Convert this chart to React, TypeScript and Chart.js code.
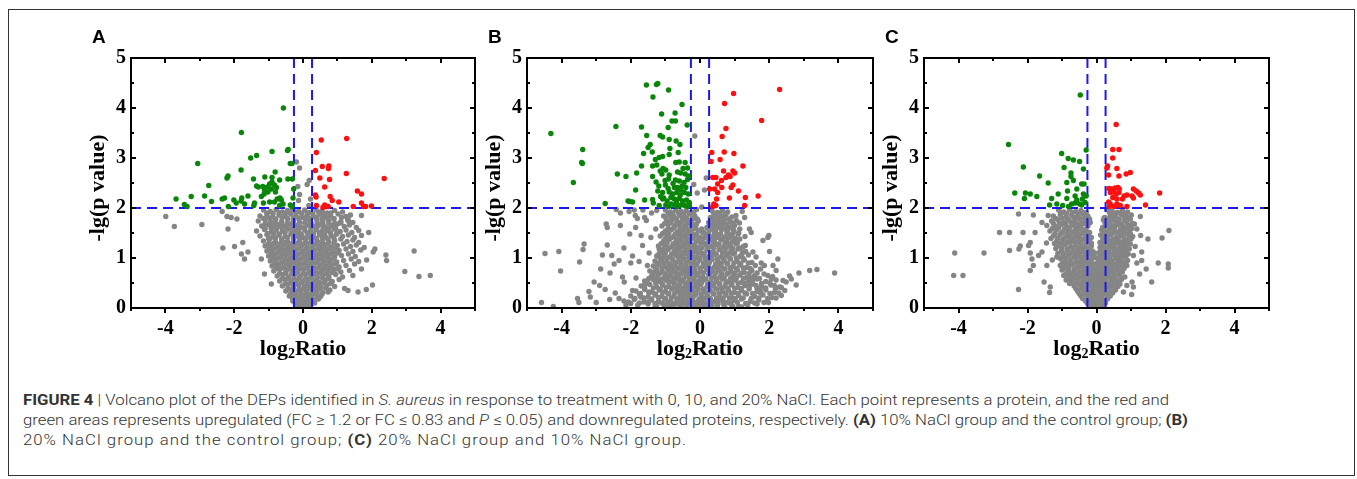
import React, { useEffect, useLayoutEffect, useRef } from "react";
import { Chart, registerables } from "chart.js";

Chart.register(...registerables);

type Pt = [number, number];

// ---------- axis / label constants ----------
const panelLetters = ["A", "B", "C"];
const xTickValues = [-4, -2, 0, 2, 4];
const xTickLabels = ["-4", "-2", "0", "2", "4"];
const yTickValues = [0, 1, 2, 3, 4, 5];
const yTickLabels = ["0", "1", "2", "3", "4", "5"];
const xMinorValues = [-5, -4, -3, -2, -1, 0, 1, 2, 3, 4, 5];
const yMinorValues = [0, 0.5, 1, 1.5, 2, 2.5, 3, 3.5, 4, 4.5, 5];
const fcCut = 0.263; // log2(1.2)
const pCut = 2;
const yAxisTitle = "-lg(p value)";
const xAxisTitle = ["log", "2", "Ratio"];
const captionWidths = [1146, 1165, 664];

// ---------- Panel A : 10% NaCl vs control ----------
const aUp: Pt[] = [
  [0.53, 3.36], [1.27, 3.39], [0.39, 3.11], [0.56, 2.83], [0.75, 2.84], [0.74, 2.79], [0.36, 2.75],
  [1.26, 2.69], [2.36, 2.59], [0.49, 2.6], [0.77, 2.57], [0.63, 2.42], [1.58, 2.34], [1.7, 2.28],
  [0.36, 2.26], [0.38, 2.22], [0.79, 2.23], [0.85, 2.15], [1.04, 2.12], [0.63, 2.06], [0.39, 2.05],
  [0.73, 2.03], [1.7, 2.1], [1.76, 2.03], [1.82, 2.03], [1.99, 2.04], [1.46, 2.03], [0.58, 2.01],
];
const aDown: Pt[] = [
  [-0.57, 4.0], [-1.79, 3.51], [-0.43, 3.17], [-0.45, 3.15], [-0.9, 3.13], [-1.35, 3.05], [-1.52, 3.0],
  [-3.06, 2.89], [-0.32, 2.89], [-0.37, 2.89], [-1.8, 2.76], [-0.81, 2.72], [-2.18, 2.64], [-2.21, 2.6],
  [-1.44, 2.58], [-1.11, 2.62], [-0.44, 2.58], [-0.31, 2.58], [-0.9, 2.61], [-2.74, 2.45], [-1.35, 2.44],
  [-1.3, 2.42], [-1.17, 2.43], [-1.04, 2.42], [-0.97, 2.48], [-0.9, 2.52], [-0.83, 2.46], [-0.68, 2.56],
  [-1.12, 2.36], [-0.92, 2.38], [-0.77, 2.41], [-1.02, 2.32], [-0.8, 2.32], [-0.27, 2.38], [-2.86, 2.24],
  [-3.25, 2.23], [-3.69, 2.18], [-2.66, 2.13], [-2.35, 2.18], [-2.28, 2.2], [-2.01, 2.16], [-1.78, 2.2],
  [-1.6, 2.24], [-1.8, 2.14], [-1.21, 2.23], [-1.13, 2.28], [-0.67, 2.2], [-0.63, 2.16], [-0.83, 2.12],
  [-0.75, 2.18], [-0.29, 2.2], [-3.45, 2.07], [-3.37, 2.03], [-2.17, 2.03], [-1.94, 2.1], [-1.41, 2.1],
  [-1.43, 2.05], [-1.15, 2.1], [-0.97, 2.12], [-0.68, 2.05], [-0.58, 2.08], [-0.37, 2.06], [-0.32, 2.03],
  [-1.7, 2.08],
];
const aOther: Pt[] = [
  [-3.99, 1.83], [-3.74, 1.63], [-2.94, 1.67], [-2.33, 1.2], [-2.18, 1.58], [-2.21, 1.83], [-1.99, 1.23],
  [-1.79, 1.08], [-1.75, 1.31], [-1.92, 1.78], [-2.09, 1.81], [-2.35, 1.93], [2.96, 0.73], [3.23, 1.14],
  [3.37, 0.63], [3.7, 0.65], [2.41, 1.06], [2.43, 0.95], [2.09, 1.18], [2.04, 1.12], [2.02, 0.46],
  [1.84, 0.37], [1.31, 0.35], [1.21, 0.39], [1.31, 1.78], [1.33, 1.73], [1.7, 1.85], [1.91, 1.51],
  [1.6, 0.32], [0.73, 0.32], [0.49, 0.22], [-0.92, 0.48], [-1.12, 0.68], [-1.21, 0.98], [-1.7, 0.98],
  [-1.6, 1.12], [-0.19, 2.92], [-0.1, 2.8], [0.18, 2.55], [0.12, 2.47], [-0.15, 2.43], [-0.1, 2.27],
  [0.22, 2.18], [-0.13, 2.15], [0.17, 2.05],
  [-1.15, 1.96], [-0.95, 1.93], [-0.78, 1.97], [-0.6, 1.92], [-0.45, 1.95], [-0.3, 1.98], [-0.12, 1.93],
  [0.05, 1.96], [0.2, 1.91], [0.38, 1.97], [0.55, 1.94], [0.7, 1.9], [0.92, 1.95], [1.15, 1.92],
  [-1.25, 1.84], [-1.05, 1.87], [-0.88, 1.82], [-0.7, 1.86], [-0.52, 1.83], [-0.35, 1.88], [-0.2, 1.84],
  [-0.05, 1.81], [0.12, 1.86], [0.3, 1.83], [0.48, 1.87], [0.62, 1.82], [0.8, 1.85], [1.02, 1.88],
  [1.25, 1.83], [1.38, 1.86],
  [-1.3, 1.74], [-1.1, 1.77], [-0.95, 1.72], [-0.8, 1.76], [-0.62, 1.73], [-0.45, 1.78], [-0.28, 1.74],
  [-0.1, 1.71], [0.08, 1.76], [0.22, 1.73], [0.4, 1.77], [0.58, 1.72], [0.75, 1.75], [0.9, 1.78],
  [1.1, 1.73], [1.3, 1.76], [1.45, 1.71],
  [-1.2, 1.64], [-1.0, 1.67], [-0.85, 1.62], [-0.7, 1.66], [-0.55, 1.63], [-0.38, 1.68], [-0.2, 1.64],
  [-0.05, 1.61], [0.15, 1.66], [0.32, 1.63], [0.5, 1.67], [0.65, 1.62], [0.85, 1.65], [1.0, 1.68],
  [1.2, 1.63], [1.35, 1.66], [1.55, 1.61],
  [-1.35, 1.54], [-1.12, 1.57], [-0.92, 1.52], [-0.78, 1.56], [-0.6, 1.53], [-0.42, 1.58], [-0.26, 1.54],
  [-0.12, 1.51], [0.05, 1.56], [0.22, 1.53], [0.38, 1.57], [0.55, 1.52], [0.72, 1.55], [0.9, 1.58],
  [1.08, 1.53], [1.25, 1.56], [1.42, 1.51], [1.62, 1.55],
  [-1.25, 1.44], [-1.05, 1.47], [-0.88, 1.42], [-0.7, 1.46], [-0.52, 1.43], [-0.35, 1.48], [-0.18, 1.44],
  [0.0, 1.41], [0.15, 1.46], [0.3, 1.43], [0.48, 1.47], [0.65, 1.42], [0.82, 1.45], [0.98, 1.48],
  [1.15, 1.43], [1.32, 1.46], [1.5, 1.41], [1.7, 1.45],
  [-1.15, 1.34], [-0.98, 1.37], [-0.8, 1.32], [-0.62, 1.36], [-0.45, 1.33], [-0.28, 1.38], [-0.1, 1.34],
  [0.08, 1.31], [0.25, 1.36], [0.42, 1.33], [0.58, 1.37], [0.75, 1.32], [0.92, 1.35], [1.1, 1.38],
  [1.28, 1.33], [1.45, 1.36], [1.62, 1.31],
  [-1.1, 1.24], [-0.92, 1.27], [-0.75, 1.22], [-0.58, 1.26], [-0.4, 1.23], [-0.22, 1.28], [-0.05, 1.24],
  [0.12, 1.21], [0.3, 1.26], [0.48, 1.23], [0.65, 1.27], [0.82, 1.22], [1.0, 1.25], [1.18, 1.28],
  [1.38, 1.23], [1.55, 1.26], [1.78, 1.21],
  [-1.05, 1.14], [-0.88, 1.17], [-0.7, 1.12], [-0.52, 1.16], [-0.35, 1.13], [-0.18, 1.18], [0.0, 1.14],
  [0.18, 1.11], [0.35, 1.16], [0.52, 1.13], [0.7, 1.17], [0.88, 1.12], [1.05, 1.15], [1.25, 1.18],
  [1.45, 1.13], [1.68, 1.16],
  [-1.0, 1.04], [-0.82, 1.07], [-0.65, 1.02], [-0.48, 1.06], [-0.3, 1.03], [-0.12, 1.08], [0.05, 1.04],
  [0.22, 1.01], [0.4, 1.06], [0.58, 1.03], [0.75, 1.07], [0.92, 1.02], [1.12, 1.05], [1.32, 1.08],
  [1.52, 1.03],
  [-0.95, 0.94], [-0.78, 0.97], [-0.6, 0.92], [-0.42, 0.96], [-0.25, 0.93], [-0.08, 0.98], [0.1, 0.94],
  [0.28, 0.91], [0.45, 0.96], [0.62, 0.93], [0.8, 0.97], [0.98, 0.92], [1.18, 0.95], [1.4, 0.98],
  [1.62, 0.93], [1.85, 0.96],
  [-0.9, 0.84], [-0.72, 0.87], [-0.55, 0.82], [-0.38, 0.86], [-0.2, 0.83], [-0.02, 0.88], [0.15, 0.84],
  [0.32, 0.81], [0.5, 0.86], [0.68, 0.83], [0.85, 0.87], [1.05, 0.82], [1.25, 0.85], [1.5, 0.88],
  [-0.85, 0.74], [-0.68, 0.77], [-0.5, 0.72], [-0.32, 0.76], [-0.15, 0.73], [0.02, 0.78], [0.2, 0.74],
  [0.38, 0.71], [0.55, 0.76], [0.72, 0.73], [0.9, 0.77], [1.1, 0.72], [1.35, 0.75], [1.7, 0.78],
  [-0.75, 0.64], [-0.58, 0.67], [-0.42, 0.62], [-0.25, 0.66], [-0.08, 0.63], [0.08, 0.68], [0.25, 0.64],
  [0.42, 0.61], [0.58, 0.66], [0.75, 0.63], [0.95, 0.67], [1.15, 0.62], [1.45, 0.65],
  [-0.68, 0.54], [-0.5, 0.57], [-0.35, 0.52], [-0.18, 0.56], [-0.02, 0.53], [0.15, 0.58], [0.32, 0.54],
  [0.48, 0.51], [0.65, 0.56], [0.85, 0.53], [1.05, 0.57],
  [-0.6, 0.44], [-0.45, 0.47], [-0.28, 0.42], [-0.12, 0.46], [0.05, 0.43], [0.2, 0.48], [0.36, 0.44],
  [0.52, 0.41], [0.7, 0.46], [0.92, 0.43],
  [-0.5, 0.34], [-0.35, 0.37], [-0.2, 0.32], [-0.05, 0.36], [0.1, 0.33], [0.25, 0.38], [0.4, 0.34],
  [0.58, 0.31], [0.78, 0.36],
  [-0.4, 0.24], [-0.25, 0.27], [-0.1, 0.22], [0.05, 0.26], [0.2, 0.23], [0.35, 0.28], [0.52, 0.24],
  [-0.3, 0.14], [-0.15, 0.17], [0.0, 0.12], [0.15, 0.16], [0.3, 0.13], [0.45, 0.18],
  [-0.2, 0.06], [-0.07, 0.08], [0.07, 0.05], [0.2, 0.07], [-0.1, 0.02], [0.02, 0.01], [0.12, 0.03],
];
const aOtherCore: Pt[] = [
  [-1.05, 1.9], [-0.87, 1.89], [-0.69, 1.91], [-0.52, 1.88], [-0.38, 1.9], [-0.21, 1.92], [-0.04, 1.89],
  [0.13, 1.9], [0.29, 1.88], [0.46, 1.91], [0.63, 1.89], [0.81, 1.9],
  [-1.15, 1.79], [-0.97, 1.8], [-0.79, 1.78], [-0.61, 1.81], [-0.44, 1.79], [-0.27, 1.8], [-0.12, 1.78],
  [0.04, 1.8], [0.21, 1.79], [0.39, 1.81], [0.55, 1.78], [0.71, 1.8], [0.9, 1.79], [1.12, 1.81],
  [-1.1, 1.69], [-0.92, 1.7], [-0.77, 1.68], [-0.62, 1.71], [-0.46, 1.69], [-0.29, 1.7], [-0.12, 1.68],
  [0.05, 1.7], [0.23, 1.69], [0.41, 1.71], [0.57, 1.68], [0.75, 1.7], [0.92, 1.69], [1.1, 1.7],
  [-1.1, 1.59], [-0.93, 1.6], [-0.77, 1.58], [-0.62, 1.61], [-0.47, 1.59], [-0.3, 1.6], [-0.13, 1.58],
  [0.05, 1.6], [0.23, 1.59], [0.41, 1.61], [0.58, 1.58], [0.75, 1.6], [0.95, 1.59],
  [-1.02, 1.49], [-0.85, 1.5], [-0.69, 1.48], [-0.52, 1.51], [-0.34, 1.49], [-0.19, 1.5], [-0.05, 1.48],
  [0.12, 1.5], [0.3, 1.49], [0.47, 1.51], [0.63, 1.48], [0.8, 1.5], [0.98, 1.49],
  [-1.0, 1.39], [-0.8, 1.4], [-0.62, 1.38], [-0.45, 1.41], [-0.27, 1.39], [-0.1, 1.4], [0.07, 1.38],
  [0.22, 1.4], [0.39, 1.39], [0.56, 1.41], [0.73, 1.38], [0.9, 1.4],
  [-1.0, 1.29], [-0.84, 1.3], [-0.67, 1.28], [-0.5, 1.31], [-0.32, 1.29], [-0.15, 1.3], [0.02, 1.28],
  [0.2, 1.3], [0.38, 1.29], [0.55, 1.31], [0.72, 1.28], [0.9, 1.3],
  [-0.98, 1.19], [-0.8, 1.2], [-0.63, 1.18], [-0.45, 1.21], [-0.28, 1.19], [-0.1, 1.2], [0.08, 1.18],
  [0.25, 1.2], [0.43, 1.19], [0.6, 1.21], [0.78, 1.18], [0.95, 1.2],
  [-0.92, 1.09], [-0.75, 1.1], [-0.58, 1.08], [-0.4, 1.11], [-0.22, 1.09], [-0.05, 1.1], [0.12, 1.08],
  [0.3, 1.1], [0.48, 1.09], [0.65, 1.11], [0.82, 1.08], [1.0, 1.1],
  [-0.88, 0.99], [-0.7, 1.0], [-0.52, 0.98], [-0.35, 1.01], [-0.18, 0.99], [0.0, 1.0], [0.17, 0.98],
  [0.35, 1.0], [0.52, 0.99], [0.7, 1.01], [0.88, 0.98],
  [-0.82, 0.89], [-0.65, 0.9], [-0.48, 0.88], [-0.3, 0.91], [-0.12, 0.89], [0.05, 0.9], [0.22, 0.88],
  [0.4, 0.9], [0.58, 0.89], [0.75, 0.91], [0.95, 0.88],
  [-0.78, 0.79], [-0.6, 0.8], [-0.42, 0.78], [-0.25, 0.81], [-0.08, 0.79], [0.1, 0.8], [0.28, 0.78],
  [0.45, 0.8], [0.62, 0.79], [0.8, 0.81], [1.0, 0.78],
  [-0.68, 0.69], [-0.5, 0.7], [-0.33, 0.68], [-0.17, 0.71], [0.0, 0.69], [0.17, 0.7], [0.33, 0.68],
  [0.5, 0.7], [0.67, 0.69], [0.85, 0.71],
  [-0.6, 0.59], [-0.43, 0.6], [-0.27, 0.58], [-0.1, 0.61], [0.07, 0.59], [0.23, 0.6], [0.4, 0.58],
  [0.57, 0.6], [0.75, 0.59],
  [-0.52, 0.49], [-0.36, 0.5], [-0.2, 0.48], [-0.04, 0.51], [0.12, 0.49], [0.28, 0.5], [0.44, 0.48],
  [0.6, 0.5], [0.8, 0.49],
  [-0.44, 0.39], [-0.28, 0.4], [-0.12, 0.38], [0.03, 0.41], [0.18, 0.39], [0.33, 0.4], [0.48, 0.38],
  [0.66, 0.4],
  [-0.36, 0.29], [-0.2, 0.3], [-0.05, 0.28], [0.1, 0.31], [0.25, 0.29], [0.4, 0.3], [0.55, 0.28],
  [-0.3, 0.19], [-0.16, 0.2], [-0.02, 0.18], [0.12, 0.21], [0.27, 0.19], [0.42, 0.2],
  [-0.22, 0.09], [-0.08, 0.1], [0.06, 0.11], [0.2, 0.09], [0.34, 0.1],
];

// ---------- Panel B : 20% NaCl vs control ----------
const bUp: Pt[] = [
  [2.3, 4.37], [0.97, 4.29], [0.71, 4.09], [1.78, 3.75], [0.75, 3.59], [0.64, 3.43], [0.34, 3.11],
  [0.7, 3.12], [0.98, 3.09], [0.32, 2.93], [0.58, 2.97], [1.24, 2.84], [0.68, 2.74], [0.95, 2.74],
  [1.0, 2.7], [0.82, 2.66], [0.37, 2.61], [0.46, 2.61], [0.75, 2.61], [0.87, 2.63], [0.62, 2.55],
  [0.51, 2.48], [0.95, 2.46], [0.9, 2.41], [0.63, 2.41], [0.42, 2.38], [0.28, 2.38], [0.51, 2.31],
  [1.11, 2.34], [1.68, 2.24], [1.31, 2.21], [0.85, 2.2], [0.48, 2.18], [0.4, 2.08], [0.46, 2.05],
  [1.29, 2.05], [0.37, 2.03],
];
const bDown: Pt[] = [
  [-4.31, 3.49], [-3.39, 3.17], [-3.42, 2.91], [-3.4, 2.89], [-3.66, 2.51], [-2.74, 2.09], [-2.43, 3.63],
  [-2.39, 2.68], [-2.14, 2.63], [-2.08, 2.14], [-2.03, 2.13], [-1.95, 2.12], [-1.83, 2.7], [-1.86, 2.36],
  [-1.6, 2.16], [-1.69, 3.62], [-1.55, 4.46], [-1.26, 4.47], [-1.22, 4.49], [-0.91, 4.36], [-1.36, 4.22],
  [-0.52, 4.07], [-1.11, 3.88], [-0.72, 3.9], [-0.81, 3.74], [-0.71, 3.74], [-0.37, 3.66], [-0.92, 3.61],
  [-1.54, 3.45], [-1.15, 3.45], [-1.08, 3.42], [-0.69, 3.34], [-0.58, 3.27], [-0.89, 3.37], [-1.44, 3.27],
  [-1.5, 3.21], [-1.63, 3.09], [-1.38, 3.12], [-0.87, 3.19], [-0.63, 3.11], [-1.18, 3.01], [-1.08, 3.03],
  [-0.89, 3.07], [-1.29, 2.97], [-1.25, 2.86], [-0.7, 2.91], [-0.6, 2.92], [-0.43, 2.91], [-1.69, 2.84],
  [-1.07, 2.79], [-0.99, 2.76], [-0.49, 2.79], [-0.36, 2.8], [-1.37, 2.84], [-1.15, 2.74], [-1.1, 2.68],
  [-0.65, 2.72], [-0.56, 2.7], [-0.89, 2.66], [-0.43, 2.68], [-0.33, 2.64], [-1.37, 2.63], [-1.01, 2.55],
  [-0.91, 2.58], [-0.71, 2.56], [-0.6, 2.54], [-0.36, 2.57], [-0.46, 2.51], [-1.27, 2.52], [-1.19, 2.44],
  [-1.0, 2.46], [-0.92, 2.39], [-0.74, 2.41], [-0.65, 2.41], [-0.52, 2.44], [-0.41, 2.41], [-1.22, 2.34],
  [-1.08, 2.31], [-0.89, 2.32], [-0.79, 2.28], [-0.67, 2.31], [-0.57, 2.26], [-0.45, 2.31], [-0.34, 2.28],
  [-1.37, 2.17], [-1.35, 2.1], [-1.14, 2.23], [-1.08, 2.18], [-0.95, 2.14], [-0.84, 2.21], [-0.74, 2.18],
  [-0.68, 2.12], [-0.6, 2.19], [-0.5, 2.14], [-0.39, 2.16], [-0.31, 2.11], [-0.99, 2.06], [-0.91, 2.03],
  [-0.83, 2.08], [-0.73, 2.05], [-0.65, 2.03], [-0.55, 2.06], [-0.44, 2.05], [-0.36, 2.03], [-0.31, 2.06],
  [-1.18, 2.05], [-0.78, 2.49], [-0.55, 2.36], [-1.05, 2.2],
];
const bOther: Pt[] = [
  [-4.58, 0.11], [-4.24, 0.03], [-4.48, 1.09], [-4.08, 1.13], [-4.03, 0.74], [-3.48, 0.92], [-3.38, 1.17],
  [-3.35, 1.28], [-3.54, 0.19], [-3.5, 0.11], [-3.21, 0.33], [-3.17, 0.22], [-3.06, 0.52], [-3.0, 0.11],
  [-2.87, 0.78], [-2.82, 1.06], [-2.74, 0.37], [-2.68, 1.26], [-2.71, 1.68], [-2.68, 1.61], [-2.61, 0.17],
  [-2.55, 1.05], [-2.48, 0.88], [-2.42, 1.97], [-2.34, 0.19], [-2.3, 1.65], [-2.24, 0.62], [-2.19, 0.52],
  [-2.14, 0.05], [-2.07, 0.12], [-2.0, 0.9], [-1.95, 1.04], [-2.03, 1.48], [-1.87, 1.85], [-1.81, 1.79],
  [-1.86, 1.61], [-1.76, 0.93], [-1.71, 0.22], [-1.66, 1.25], [-1.61, 0.45], [-1.6, 1.81], [-1.55, 1.75],
  [-1.52, 0.85], [-1.47, 1.1], [-1.42, 1.41], [-1.47, 0.32], [-1.32, 0.72], [-1.23, 0.58], [-1.28, 1.58],
  [-1.18, 1.18], [-1.1, 0.98], [-2.34, 0.95], [-2.3, 1.9], [-2.05, 1.93], [-1.9, 1.96], [-1.65, 1.96],
  [-1.4, 1.9], [-1.25, 1.95], [-2.9, 0.45], [-2.6, 0.7], [-2.45, 0.3], [-2.2, 1.2], [-1.95, 0.35],
  [-1.85, 0.6], [-1.7, 1.45],
  [3.89, 0.7], [3.38, 0.77], [3.17, 0.75], [2.86, 0.7], [2.78, 0.46], [2.59, 0.64], [2.64, 0.58],
  [2.49, 0.52], [2.4, 0.55], [2.25, 0.98], [1.99, 1.45], [1.96, 1.41], [1.82, 1.35], [2.01, 1.13],
  [1.77, 0.9], [1.86, 0.85], [2.11, 0.85], [2.2, 0.75], [1.96, 0.65], [2.06, 0.58], [2.15, 0.45],
  [2.3, 0.42], [1.62, 0.45], [1.74, 0.35], [1.53, 0.57], [1.43, 0.45], [1.48, 1.51], [1.43, 1.58],
  [1.29, 1.81], [1.22, 1.93], [1.04, 1.85], [1.14, 1.7], [1.62, 1.02], [1.53, 1.12], [1.31, 1.25],
  [1.24, 1.12], [-0.15, 3.44], [-0.18, 2.47], [-0.08, 2.3], [0.13, 2.36], [0.05, 2.02], [0.18, 2.6],
  [-1.0, 1.96], [-0.85, 1.92], [-0.7, 1.97], [-0.55, 1.93], [-0.4, 1.95], [-0.25, 1.91], [-0.1, 1.97],
  [0.35, 1.94], [0.5, 1.91], [0.65, 1.96], [0.8, 1.92],
  [-1.05, 1.84], [-0.9, 1.87], [-0.75, 1.82], [-0.6, 1.86], [-0.45, 1.83], [-0.3, 1.88], [-0.15, 1.84],
  [0.3, 1.81], [0.45, 1.86], [0.6, 1.83], [0.75, 1.87], [0.92, 1.82],
  [-0.95, 1.74], [-0.8, 1.77], [-0.65, 1.72], [-0.5, 1.76], [-0.35, 1.73], [-0.2, 1.78], [-0.05, 1.74],
  [0.25, 1.71], [0.4, 1.76], [0.55, 1.73], [0.7, 1.77], [0.88, 1.72], [1.05, 1.75],
  [-1.1, 1.64], [-0.92, 1.67], [-0.75, 1.62], [-0.6, 1.66], [-0.45, 1.63], [-0.3, 1.68], [-0.15, 1.64],
  [0.2, 1.61], [0.35, 1.66], [0.5, 1.63], [0.65, 1.67], [0.82, 1.62], [1.0, 1.65],
  [-1.0, 1.54], [-0.82, 1.57], [-0.65, 1.52], [-0.5, 1.56], [-0.35, 1.53], [-0.2, 1.58], [-0.05, 1.54],
  [0.12, 1.51], [0.28, 1.56], [0.45, 1.53], [0.62, 1.57], [0.8, 1.52], [0.98, 1.55], [1.15, 1.58],
  [-1.15, 1.44], [-0.95, 1.47], [-0.78, 1.42], [-0.6, 1.46], [-0.45, 1.43], [-0.3, 1.48], [-0.15, 1.44],
  [0.0, 1.41], [0.2, 1.46], [0.38, 1.43], [0.55, 1.47], [0.72, 1.42], [0.9, 1.45], [1.1, 1.48], [1.3, 1.43],
  [-1.05, 1.34], [-0.88, 1.37], [-0.7, 1.32], [-0.55, 1.36], [-0.4, 1.33], [-0.25, 1.38], [-0.1, 1.34],
  [0.08, 1.31], [0.25, 1.36], [0.42, 1.33], [0.6, 1.37], [0.78, 1.32], [0.95, 1.35], [1.15, 1.38],
  [-1.2, 1.24], [-1.0, 1.27], [-0.82, 1.22], [-0.65, 1.26], [-0.5, 1.23], [-0.35, 1.28], [-0.2, 1.24],
  [-0.05, 1.21], [0.15, 1.26], [0.32, 1.23], [0.5, 1.27], [0.68, 1.22], [0.85, 1.25], [1.05, 1.28],
  [1.25, 1.23],
  [-1.1, 1.14], [-0.92, 1.17], [-0.75, 1.12], [-0.6, 1.16], [-0.45, 1.13], [-0.3, 1.18], [-0.15, 1.14],
  [0.02, 1.11], [0.2, 1.16], [0.38, 1.13], [0.55, 1.17], [0.72, 1.12], [0.9, 1.15], [1.1, 1.18],
  [1.32, 1.13],
  [-1.25, 1.04], [-1.05, 1.07], [-0.88, 1.02], [-0.7, 1.06], [-0.55, 1.03], [-0.4, 1.08], [-0.25, 1.04],
  [-0.1, 1.01], [0.08, 1.06], [0.25, 1.03], [0.42, 1.07], [0.6, 1.02], [0.78, 1.05], [0.95, 1.08],
  [1.15, 1.03], [1.4, 1.06],
  [-1.3, 0.94], [-1.12, 0.97], [-0.95, 0.92], [-0.78, 0.96], [-0.62, 0.93], [-0.48, 0.98], [-0.32, 0.94],
  [-0.18, 0.91], [0.0, 0.96], [0.18, 0.93], [0.35, 0.97], [0.52, 0.92], [0.7, 0.95], [0.88, 0.98],
  [1.08, 0.93], [1.28, 0.96], [1.5, 0.91],
  [-1.35, 0.84], [-1.18, 0.87], [-1.0, 0.82], [-0.85, 0.86], [-0.7, 0.83], [-0.55, 0.88], [-0.4, 0.84],
  [-0.25, 0.81], [-0.1, 0.86], [0.08, 0.83], [0.25, 0.87], [0.42, 0.82], [0.6, 0.85], [0.78, 0.88],
  [0.95, 0.83], [1.15, 0.86], [1.35, 0.81], [1.6, 0.85],
  [-1.45, 0.74], [-1.25, 0.77], [-1.08, 0.72], [-0.92, 0.76], [-0.75, 0.73], [-0.6, 0.78], [-0.45, 0.74],
  [-0.3, 0.71], [-0.15, 0.76], [0.02, 0.73], [0.2, 0.77], [0.38, 0.72], [0.55, 0.75], [0.72, 0.78],
  [0.9, 0.73], [1.08, 0.76], [1.28, 0.71], [1.5, 0.75], [1.75, 0.78],
  [-1.4, 0.64], [-1.2, 0.67], [-1.02, 0.62], [-0.85, 0.66], [-0.7, 0.63], [-0.55, 0.68], [-0.4, 0.64],
  [-0.25, 0.61], [-0.1, 0.66], [0.08, 0.63], [0.25, 0.67], [0.42, 0.62], [0.6, 0.65], [0.78, 0.68],
  [0.95, 0.63], [1.15, 0.66], [1.35, 0.61], [1.58, 0.65], [1.85, 0.68], [2.1, 0.63],
  [-1.6, 0.54], [-1.35, 0.57], [-1.15, 0.52], [-0.98, 0.56], [-0.8, 0.53], [-0.65, 0.58], [-0.5, 0.54],
  [-0.35, 0.51], [-0.2, 0.56], [-0.05, 0.53], [0.12, 0.57], [0.3, 0.52], [0.48, 0.55], [0.65, 0.58],
  [0.82, 0.53], [1.0, 0.56], [1.2, 0.51], [1.4, 0.55], [1.65, 0.58], [1.9, 0.53], [2.2, 0.56],
  [-1.7, 0.44], [-1.45, 0.47], [-1.25, 0.42], [-1.08, 0.46], [-0.9, 0.43], [-0.75, 0.48], [-0.6, 0.44],
  [-0.45, 0.41], [-0.3, 0.46], [-0.15, 0.43], [0.02, 0.47], [0.2, 0.42], [0.38, 0.45], [0.55, 0.48],
  [0.72, 0.43], [0.9, 0.46], [1.1, 0.41], [1.3, 0.45], [1.52, 0.48], [1.78, 0.43], [2.05, 0.46],
  [2.35, 0.41],
  [-1.85, 0.34], [-1.6, 0.37], [-1.38, 0.32], [-1.18, 0.36], [-1.0, 0.33], [-0.82, 0.38], [-0.65, 0.34],
  [-0.5, 0.31], [-0.35, 0.36], [-0.2, 0.33], [-0.05, 0.37], [0.12, 0.32], [0.3, 0.35], [0.48, 0.38],
  [0.65, 0.33], [0.82, 0.36], [1.0, 0.31], [1.2, 0.35], [1.42, 0.38], [1.65, 0.33], [1.9, 0.36],
  [2.15, 0.31], [2.45, 0.35],
  [-2.0, 0.24], [-1.75, 0.27], [-1.5, 0.22], [-1.3, 0.26], [-1.1, 0.23], [-0.92, 0.28], [-0.75, 0.24],
  [-0.58, 0.21], [-0.42, 0.26], [-0.28, 0.23], [-0.12, 0.27], [0.05, 0.22], [0.22, 0.25], [0.4, 0.28],
  [0.58, 0.23], [0.75, 0.26], [0.92, 0.21], [1.12, 0.25], [1.35, 0.28], [1.58, 0.23], [1.82, 0.26],
  [2.08, 0.21], [2.35, 0.25],
  [-2.2, 0.14], [-1.9, 0.17], [-1.62, 0.12], [-1.4, 0.16], [-1.2, 0.13], [-1.02, 0.18], [-0.85, 0.14],
  [-0.68, 0.11], [-0.52, 0.16], [-0.38, 0.13], [-0.22, 0.17], [-0.08, 0.12], [0.08, 0.15], [0.25, 0.18],
  [0.42, 0.13], [0.6, 0.16], [0.78, 0.11], [0.98, 0.15], [1.2, 0.18], [1.45, 0.13], [1.7, 0.16],
  [1.98, 0.11],
  [-1.8, 0.06], [-1.5, 0.08], [-1.25, 0.05], [-1.05, 0.07], [-0.88, 0.04], [-0.7, 0.08], [-0.55, 0.06],
  [-0.4, 0.03], [-0.25, 0.07], [-0.1, 0.05], [0.05, 0.08], [0.2, 0.04], [0.35, 0.06], [0.52, 0.08],
  [0.7, 0.05], [0.9, 0.07], [1.12, 0.04], [1.38, 0.06], [1.65, 0.08],
  [-1.3, 0.02], [-1.0, 0.01], [-0.78, 0.03], [-0.58, 0.02], [-0.4, 0.01], [-0.22, 0.03], [-0.05, 0.02],
  [0.12, 0.01], [0.3, 0.03], [0.5, 0.02], [0.72, 0.01], [0.95, 0.03], [1.2, 0.02],
];
const bOtherCore: Pt[] = [
  [-0.92, 1.9], [-0.78, 1.89], [-0.62, 1.91], [-0.48, 1.88], [-0.32, 1.9], [-0.18, 1.92], [0.4, 1.89],
  [0.57, 1.9], [0.72, 1.88],
  [-0.98, 1.79], [-0.82, 1.8], [-0.68, 1.78], [-0.52, 1.81], [-0.38, 1.79], [-0.22, 1.8], [-0.08, 1.78],
  [0.35, 1.8], [0.52, 1.79], [0.67, 1.81], [0.83, 1.78],
  [-1.02, 1.69], [-0.85, 1.7], [-0.7, 1.68], [-0.55, 1.71], [-0.4, 1.69], [-0.25, 1.7], [-0.1, 1.68],
  [0.3, 1.7], [0.45, 1.69], [0.6, 1.71], [0.76, 1.68], [0.94, 1.7],
  [-0.92, 1.59], [-0.75, 1.6], [-0.58, 1.58], [-0.42, 1.61], [-0.27, 1.59], [-0.12, 1.6], [0.05, 1.58],
  [0.22, 1.6], [0.38, 1.59], [0.55, 1.61], [0.72, 1.58], [0.9, 1.6],
  [-1.08, 1.49], [-0.9, 1.5], [-0.72, 1.48], [-0.55, 1.51], [-0.4, 1.49], [-0.25, 1.5], [-0.1, 1.48],
  [0.08, 1.5], [0.25, 1.49], [0.42, 1.51], [0.6, 1.48], [0.78, 1.5], [0.95, 1.49], [1.12, 1.5],
  [-1.0, 1.39], [-0.85, 1.4], [-0.68, 1.38], [-0.52, 1.41], [-0.38, 1.39], [-0.22, 1.4], [-0.05, 1.38],
  [0.12, 1.4], [0.3, 1.39], [0.48, 1.41], [0.65, 1.38], [0.82, 1.4], [1.02, 1.39],
  [-1.12, 1.29], [-0.95, 1.3], [-0.78, 1.28], [-0.6, 1.31], [-0.45, 1.29], [-0.3, 1.3], [-0.15, 1.28],
  [0.02, 1.3], [0.2, 1.29], [0.38, 1.31], [0.55, 1.28], [0.72, 1.3], [0.9, 1.29], [1.08, 1.3],
  [-1.05, 1.19], [-0.9, 1.2], [-0.72, 1.18], [-0.58, 1.21], [-0.42, 1.19], [-0.28, 1.2], [-0.12, 1.18],
  [0.05, 1.2], [0.22, 1.19], [0.4, 1.21], [0.58, 1.18], [0.76, 1.2], [0.95, 1.19], [1.15, 1.2],
  [-1.18, 1.09], [-1.0, 1.1], [-0.82, 1.08], [-0.65, 1.11], [-0.5, 1.09], [-0.35, 1.1], [-0.2, 1.08],
  [-0.05, 1.1], [0.12, 1.09], [0.3, 1.11], [0.47, 1.08], [0.65, 1.1], [0.82, 1.09], [1.0, 1.1], [1.22, 1.09],
  [-1.15, 0.99], [-0.97, 1.0], [-0.8, 0.98], [-0.62, 1.01], [-0.48, 0.99], [-0.33, 1.0], [-0.18, 0.98],
  [-0.02, 1.0], [0.15, 0.99], [0.33, 1.01], [0.5, 0.98], [0.68, 1.0], [0.86, 0.99], [1.05, 1.0], [1.25, 0.99],
  [-1.22, 0.89], [-1.05, 0.9], [-0.88, 0.88], [-0.72, 0.91], [-0.55, 0.89], [-0.4, 0.9], [-0.25, 0.88],
  [-0.08, 0.9], [0.1, 0.89], [0.27, 0.91], [0.45, 0.88], [0.62, 0.9], [0.8, 0.89], [0.98, 0.9],
  [1.18, 0.89], [1.4, 0.9],
  [-1.28, 0.79], [-1.1, 0.8], [-0.92, 0.78], [-0.78, 0.81], [-0.62, 0.79], [-0.48, 0.8], [-0.33, 0.78],
  [-0.18, 0.8], [0.0, 0.79], [0.17, 0.81], [0.33, 0.78], [0.5, 0.8], [0.68, 0.79], [0.87, 0.8],
  [1.05, 0.79], [1.25, 0.8], [1.45, 0.79],
  [-1.35, 0.69], [-1.15, 0.7], [-0.98, 0.68], [-0.83, 0.71], [-0.68, 0.69], [-0.52, 0.7], [-0.38, 0.68],
  [-0.22, 0.7], [-0.07, 0.69], [0.1, 0.71], [0.28, 0.68], [0.45, 0.7], [0.63, 0.69], [0.82, 0.7],
  [1.0, 0.69], [1.2, 0.7], [1.42, 0.69], [1.65, 0.7],
  [-1.48, 0.59], [-1.28, 0.6], [-1.1, 0.58], [-0.92, 0.61], [-0.78, 0.59], [-0.62, 0.6], [-0.48, 0.58],
  [-0.32, 0.6], [-0.17, 0.59], [0.0, 0.61], [0.17, 0.58], [0.33, 0.6], [0.5, 0.59], [0.7, 0.6],
  [0.88, 0.59], [1.05, 0.6], [1.25, 0.59], [1.48, 0.6], [1.72, 0.59],
  [-1.5, 0.49], [-1.28, 0.5], [-1.08, 0.48], [-0.9, 0.51], [-0.73, 0.49], [-0.58, 0.5], [-0.43, 0.48],
  [-0.28, 0.5], [-0.12, 0.49], [0.05, 0.51], [0.22, 0.48], [0.4, 0.5], [0.57, 0.49], [0.75, 0.5],
  [0.92, 0.49], [1.1, 0.5], [1.3, 0.49], [1.52, 0.5], [1.78, 0.49], [2.02, 0.5],
  [-1.6, 0.39], [-1.35, 0.4], [-1.15, 0.38], [-0.98, 0.41], [-0.82, 0.39], [-0.68, 0.4], [-0.52, 0.38],
  [-0.38, 0.4], [-0.22, 0.39], [-0.07, 0.41], [0.1, 0.38], [0.28, 0.4], [0.45, 0.39], [0.62, 0.4],
  [0.8, 0.39], [1.0, 0.4], [1.2, 0.39], [1.42, 0.4], [1.65, 0.39], [1.9, 0.4], [2.18, 0.39],
  [-1.72, 0.29], [-1.48, 0.3], [-1.28, 0.28], [-1.08, 0.31], [-0.9, 0.29], [-0.73, 0.3], [-0.58, 0.28],
  [-0.42, 0.3], [-0.28, 0.29], [-0.12, 0.31], [0.03, 0.28], [0.2, 0.3], [0.38, 0.29], [0.55, 0.3],
  [0.73, 0.29], [0.9, 0.3], [1.1, 0.29], [1.3, 0.3], [1.52, 0.29], [1.75, 0.3], [2.02, 0.29], [2.28, 0.3],
  [-1.88, 0.19], [-1.62, 0.2], [-1.4, 0.18], [-1.2, 0.21], [-1.0, 0.19], [-0.83, 0.2], [-0.67, 0.18],
  [-0.5, 0.2], [-0.35, 0.19], [-0.2, 0.21], [-0.03, 0.18], [0.13, 0.2], [0.3, 0.19], [0.48, 0.2],
  [0.67, 0.19], [0.85, 0.2], [1.02, 0.19], [1.25, 0.2], [1.48, 0.19], [1.7, 0.2], [1.95, 0.19], [2.2, 0.2],
  [-2.0, 0.09], [-1.75, 0.1], [-1.5, 0.11], [-1.3, 0.09], [-1.1, 0.1], [-0.93, 0.11], [-0.77, 0.09],
  [-0.6, 0.1], [-0.45, 0.11], [-0.3, 0.09], [-0.15, 0.1], [0.0, 0.11], [0.17, 0.09], [0.33, 0.1],
  [0.5, 0.11], [0.68, 0.09], [0.88, 0.1], [1.08, 0.11], [1.32, 0.09], [1.58, 0.1], [1.85, 0.11],
];

// ---------- Panel C : 20% NaCl vs 10% NaCl ----------
const cUp: Pt[] = [
  [0.57, 3.67], [0.47, 3.17], [0.65, 3.17], [0.47, 3.0], [0.32, 2.84], [0.3, 2.8], [0.59, 2.79],
  [0.98, 2.71], [0.86, 2.68], [0.35, 2.66], [0.65, 2.64], [0.36, 2.39], [0.44, 2.38], [0.54, 2.4],
  [0.62, 2.41], [0.66, 2.38], [0.4, 2.31], [0.5, 2.32], [0.57, 2.28], [0.65, 2.31], [0.8, 2.24],
  [0.88, 2.26], [1.07, 2.38], [1.15, 2.34], [1.22, 2.3], [1.27, 2.26], [1.83, 2.3], [1.03, 2.24],
  [0.47, 2.21], [0.59, 2.18], [0.75, 2.18], [1.07, 2.2], [1.42, 2.06], [0.35, 2.12], [0.4, 2.08],
  [0.59, 2.08], [0.69, 2.05], [0.88, 2.03], [0.52, 2.03], [0.37, 2.03],
];
const cDown: Pt[] = [
  [-0.47, 4.26], [-2.55, 3.27], [-1.01, 3.09], [-0.3, 3.16], [-0.82, 2.99], [-0.67, 2.96], [-0.49, 2.93],
  [-2.12, 2.82], [-0.94, 2.81], [-0.38, 2.78], [-0.74, 2.7], [-0.74, 2.63], [-1.65, 2.64], [-0.67, 2.55],
  [-0.86, 2.51], [-1.4, 2.5], [-0.43, 2.48], [-0.36, 2.48], [-0.84, 2.34], [-0.57, 2.38], [-2.37, 2.3],
  [-2.06, 2.3], [-1.92, 2.28], [-1.73, 2.23], [-2.09, 2.19], [-1.11, 2.28], [-0.38, 2.28], [-0.3, 2.24],
  [-1.3, 2.19], [-0.86, 2.19], [-0.62, 2.24], [-0.57, 2.16], [-0.41, 2.18], [-1.36, 2.06], [-1.15, 2.08],
  [-0.98, 2.05], [-0.81, 2.03], [-0.72, 2.08], [-0.62, 2.1], [-0.49, 2.08], [-0.43, 2.06], [-0.33, 2.11],
];
const cOther: Pt[] = [
  [-4.14, 0.65], [-3.87, 0.65], [-4.11, 1.1], [-3.26, 1.1], [-2.81, 1.51], [-2.52, 1.15], [-2.52, 1.51],
  [-2.26, 0.37], [-2.26, 1.88], [-2.21, 1.24], [-2.25, 1.18], [-2.13, 1.51], [-1.92, 1.31], [-1.97, 1.25],
  [-1.83, 1.86], [-1.78, 1.51], [-1.92, 1.1], [-1.87, 0.98], [-1.92, 0.75], [-1.68, 1.05], [-1.83, 0.85],
  [-1.52, 0.52], [-1.34, 0.42], [-1.36, 0.31], [-1.44, 0.85], [-1.58, 1.12], [-1.58, 1.71], [-1.44, 1.65],
  [1.01, 1.86], [1.27, 1.83], [1.28, 1.45], [1.49, 1.38], [1.6, 0.52], [1.79, 0.9], [1.9, 1.4],
  [2.1, 1.55], [2.08, 0.88], [2.08, 0.8], [1.44, 0.78], [1.17, 0.9], [1.31, 0.95], [1.25, 0.68],
  [1.03, 0.52], [1.07, 0.42], [0.88, 0.45], [1.02, 0.27], [0.78, 0.32], [1.31, 1.12], [1.07, 1.05],
  [0.98, 1.48], [1.17, 1.58], [-1.15, 1.02], [-1.28, 0.96], [-1.05, 0.85], [-1.0, 0.76], [-0.95, 0.65],
  [-0.88, 0.56], [-1.45, 1.3], [-1.4, 1.85],
  [-1.1, 1.96], [-0.95, 1.92], [-0.78, 1.97], [-0.6, 1.93], [-0.45, 1.95], [-0.3, 1.91], [0.3, 1.97],
  [0.45, 1.94], [0.6, 1.91], [0.75, 1.96], [0.9, 1.92],
  [-1.25, 1.84], [-1.05, 1.87], [-0.88, 1.82], [-0.72, 1.86], [-0.55, 1.83], [-0.4, 1.88], [-0.25, 1.84],
  [0.25, 1.81], [0.4, 1.86], [0.55, 1.83], [0.72, 1.87], [0.88, 1.82],
  [-1.3, 1.74], [-1.12, 1.77], [-0.95, 1.72], [-0.8, 1.76], [-0.62, 1.73], [-0.48, 1.78], [-0.32, 1.74],
  [-0.18, 1.71], [0.2, 1.76], [0.35, 1.73], [0.5, 1.77], [0.65, 1.72], [0.82, 1.75], [0.98, 1.78],
  [-1.2, 1.64], [-1.02, 1.67], [-0.85, 1.62], [-0.7, 1.66], [-0.55, 1.63], [-0.4, 1.68], [-0.25, 1.64],
  [0.18, 1.61], [0.32, 1.66], [0.48, 1.63], [0.62, 1.67], [0.78, 1.62], [0.95, 1.65], [1.1, 1.68],
  [-1.35, 1.54], [-1.15, 1.57], [-0.98, 1.52], [-0.82, 1.56], [-0.65, 1.53], [-0.5, 1.58], [-0.35, 1.54],
  [-0.2, 1.51], [0.15, 1.56], [0.3, 1.53], [0.45, 1.57], [0.6, 1.52], [0.75, 1.55], [0.92, 1.58],
  [-1.25, 1.44], [-1.05, 1.47], [-0.9, 1.42], [-0.75, 1.46], [-0.6, 1.43], [-0.45, 1.48], [-0.3, 1.44],
  [-0.15, 1.41], [0.12, 1.46], [0.28, 1.43], [0.42, 1.47], [0.58, 1.42], [0.72, 1.45], [0.88, 1.48],
  [1.05, 1.43],
  [-1.15, 1.34], [-0.98, 1.37], [-0.82, 1.32], [-0.68, 1.36], [-0.52, 1.33], [-0.38, 1.38], [-0.22, 1.34],
  [0.1, 1.31], [0.25, 1.36], [0.4, 1.33], [0.55, 1.37], [0.7, 1.32], [0.85, 1.35], [1.0, 1.38],
  [-1.1, 1.24], [-0.92, 1.27], [-0.75, 1.22], [-0.6, 1.26], [-0.45, 1.23], [-0.3, 1.28], [-0.15, 1.24],
  [0.1, 1.21], [0.22, 1.26], [0.38, 1.23], [0.52, 1.27], [0.68, 1.22], [0.82, 1.25], [0.98, 1.28],
  [1.12, 1.23],
  [-1.02, 1.14], [-0.85, 1.17], [-0.7, 1.12], [-0.55, 1.16], [-0.4, 1.13], [-0.25, 1.18], [-0.12, 1.14],
  [0.08, 1.11], [0.2, 1.16], [0.35, 1.13], [0.5, 1.17], [0.65, 1.12], [0.8, 1.15], [0.95, 1.18],
  [-0.98, 1.04], [-0.82, 1.07], [-0.65, 1.02], [-0.5, 1.06], [-0.35, 1.03], [-0.2, 1.08], [-0.08, 1.04],
  [0.08, 1.01], [0.2, 1.06], [0.32, 1.03], [0.48, 1.07], [0.62, 1.02], [0.78, 1.05], [0.92, 1.08],
  [-0.92, 0.94], [-0.75, 0.97], [-0.6, 0.92], [-0.45, 0.96], [-0.3, 0.93], [-0.15, 0.98], [0.05, 0.94],
  [0.18, 0.91], [0.3, 0.96], [0.45, 0.93], [0.6, 0.97], [0.75, 0.92], [0.9, 0.95],
  [-0.88, 0.84], [-0.72, 0.87], [-0.55, 0.82], [-0.4, 0.86], [-0.25, 0.83], [-0.1, 0.88], [0.05, 0.84],
  [0.18, 0.81], [0.3, 0.86], [0.42, 0.83], [0.58, 0.87], [0.72, 0.82], [0.88, 0.85],
  [-0.82, 0.74], [-0.65, 0.77], [-0.5, 0.72], [-0.35, 0.76], [-0.22, 0.73], [-0.08, 0.78], [0.05, 0.74],
  [0.18, 0.71], [0.3, 0.76], [0.45, 0.73], [0.6, 0.77], [0.75, 0.72],
  [-0.78, 0.64], [-0.62, 0.67], [-0.48, 0.62], [-0.32, 0.66], [-0.18, 0.63], [-0.05, 0.68], [0.08, 0.64],
  [0.2, 0.61], [0.35, 0.66], [0.5, 0.63], [0.65, 0.67], [0.82, 0.62],
  [-0.72, 0.54], [-0.55, 0.57], [-0.4, 0.52], [-0.25, 0.56], [-0.12, 0.53], [0.02, 0.58], [0.15, 0.54],
  [0.28, 0.51], [0.42, 0.56], [0.58, 0.53], [0.72, 0.57],
  [-0.65, 0.44], [-0.5, 0.47], [-0.35, 0.42], [-0.2, 0.46], [-0.08, 0.43], [0.05, 0.48], [0.18, 0.44],
  [0.32, 0.41], [0.48, 0.46], [0.62, 0.43],
  [-0.55, 0.34], [-0.4, 0.37], [-0.25, 0.32], [-0.12, 0.36], [0.0, 0.33], [0.12, 0.38], [0.25, 0.34],
  [0.4, 0.31], [0.55, 0.36],
  [-0.45, 0.24], [-0.3, 0.27], [-0.15, 0.22], [-0.02, 0.26], [0.12, 0.23], [0.25, 0.28], [0.4, 0.24],
  [-0.32, 0.14], [-0.18, 0.17], [-0.05, 0.12], [0.08, 0.16], [0.2, 0.13], [0.32, 0.18],
  [-0.2, 0.06], [-0.08, 0.08], [0.05, 0.05], [0.18, 0.07], [-0.1, 0.02], [0.02, 0.01], [0.1, 0.03],
];
const cOtherCore: Pt[] = [
  [-1.02, 1.9], [-0.87, 1.89], [-0.7, 1.91], [-0.53, 1.88], [-0.38, 1.9], [0.37, 1.92], [0.52, 1.89],
  [0.68, 1.9], [0.82, 1.88],
  [-1.18, 1.79], [-1.0, 1.8], [-0.83, 1.78], [-0.66, 1.81], [-0.5, 1.79], [-0.35, 1.8], [-0.2, 1.78],
  [0.22, 1.8], [0.38, 1.79], [0.52, 1.81], [0.66, 1.78], [0.82, 1.8], [0.96, 1.79],
  [-1.25, 1.69], [-1.08, 1.7], [-0.9, 1.68], [-0.74, 1.71], [-0.58, 1.69], [-0.44, 1.7], [-0.28, 1.68],
  [0.25, 1.7], [0.4, 1.69], [0.56, 1.71], [0.72, 1.68], [0.88, 1.7], [1.04, 1.69],
  [-1.28, 1.59], [-1.1, 1.6], [-0.93, 1.58], [-0.77, 1.61], [-0.6, 1.59], [-0.45, 1.6], [-0.3, 1.58],
  [0.22, 1.6], [0.38, 1.59], [0.53, 1.61], [0.7, 1.58], [0.85, 1.6], [1.02, 1.59],
  [-1.2, 1.49], [-1.02, 1.5], [-0.85, 1.48], [-0.7, 1.51], [-0.55, 1.49], [-0.4, 1.5], [-0.25, 1.48],
  [0.2, 1.5], [0.35, 1.49], [0.5, 1.51], [0.66, 1.48], [0.82, 1.5], [0.98, 1.49],
  [-1.32, 1.39], [-1.12, 1.4], [-0.95, 1.38], [-0.8, 1.41], [-0.65, 1.39], [-0.5, 1.4], [-0.35, 1.38],
  [-0.2, 1.4], [0.18, 1.39], [0.33, 1.41], [0.48, 1.38], [0.63, 1.4], [0.8, 1.39], [0.95, 1.4],
  [-1.22, 1.29], [-1.05, 1.3], [-0.9, 1.28], [-0.75, 1.31], [-0.6, 1.29], [-0.45, 1.3], [-0.3, 1.28],
  [-0.15, 1.3], [0.15, 1.29], [0.3, 1.31], [0.46, 1.28], [0.62, 1.3], [0.77, 1.29], [0.92, 1.3],
  [-1.18, 1.19], [-1.0, 1.2], [-0.84, 1.18], [-0.68, 1.21], [-0.52, 1.19], [-0.38, 1.2], [-0.22, 1.18],
  [0.15, 1.2], [0.3, 1.19], [0.45, 1.21], [0.6, 1.18], [0.75, 1.2], [0.9, 1.19],
  [-1.12, 1.09], [-0.95, 1.1], [-0.78, 1.08], [-0.62, 1.11], [-0.48, 1.09], [-0.32, 1.1], [-0.18, 1.08],
  [-0.05, 1.1], [0.14, 1.09], [0.27, 1.11], [0.42, 1.08], [0.57, 1.1], [0.72, 1.09], [0.88, 1.1],
  [-1.05, 0.99], [-0.9, 1.0], [-0.74, 0.98], [-0.58, 1.01], [-0.43, 0.99], [-0.28, 1.0], [-0.14, 0.98],
  [0.0, 1.0], [0.14, 0.99], [0.26, 1.01], [0.4, 0.98], [0.55, 1.0], [0.7, 0.99], [0.85, 1.0],
  [-1.0, 0.89], [-0.84, 0.9], [-0.68, 0.88], [-0.52, 0.91], [-0.38, 0.89], [-0.22, 0.9], [-0.05, 0.88],
  [0.12, 0.9], [0.24, 0.89], [0.37, 0.91], [0.52, 0.88], [0.67, 0.9], [0.82, 0.89],
  [-0.95, 0.79], [-0.8, 0.8], [-0.63, 0.78], [-0.48, 0.81], [-0.32, 0.79], [-0.18, 0.8], [-0.03, 0.78],
  [0.12, 0.8], [0.24, 0.79], [0.36, 0.81], [0.5, 0.78], [0.65, 0.8], [0.8, 0.79],
  [-0.88, 0.69], [-0.72, 0.7], [-0.57, 0.68], [-0.42, 0.71], [-0.28, 0.69], [-0.13, 0.7], [0.0, 0.68],
  [0.12, 0.7], [0.25, 0.69], [0.38, 0.71], [0.52, 0.68], [0.68, 0.7],
  [-0.82, 0.59], [-0.68, 0.6], [-0.52, 0.58], [-0.38, 0.61], [-0.25, 0.59], [-0.1, 0.6], [0.03, 0.58],
  [0.15, 0.6], [0.28, 0.59], [0.42, 0.61], [0.57, 0.58], [0.72, 0.6],
  [-0.78, 0.49], [-0.62, 0.5], [-0.45, 0.48], [-0.3, 0.51], [-0.15, 0.49], [-0.02, 0.5], [0.12, 0.48],
  [0.25, 0.5], [0.38, 0.49], [0.53, 0.51], [0.68, 0.48],
  [-0.6, 0.39], [-0.45, 0.4], [-0.3, 0.38], [-0.15, 0.41], [-0.02, 0.39], [0.1, 0.4], [0.24, 0.38],
  [0.38, 0.4], [0.52, 0.39],
  [-0.5, 0.29], [-0.35, 0.3], [-0.2, 0.28], [-0.07, 0.31], [0.06, 0.29], [0.2, 0.3], [0.33, 0.28],
  [0.47, 0.3],
  [-0.4, 0.19], [-0.25, 0.2], [-0.1, 0.18], [0.03, 0.21], [0.16, 0.19], [0.3, 0.2],
  [-0.26, 0.09], [-0.12, 0.1], [0.0, 0.11], [0.13, 0.09], [0.26, 0.1],
];

// ---------- styling ----------
const GRAY = "#858585";
const GREEN = "#0a870a";
const RED = "#ff1010";
const BLUE = "#1a1aee";
const SERIF = "'Liberation Serif', 'Times New Roman', serif";
const PT_R = 2.7;
const AXIS_W = 76;
const RIGHT_PAD = 20;
const TOP_PAD = 43;
const X_AXIS_H = 67;
const CANVAS_H = 360;

const volcanoDecor = {
  id: "volcanoDecor",
  afterDatasetsDraw(chart: any, _args: any, opts: any) {
    const { ctx, chartArea: a, scales } = chart;
    const xs = scales.x;
    const ys = scales.y;
    ctx.save();
    ctx.strokeStyle = "#000";
    ctx.lineWidth = 2;
    ctx.strokeRect(a.left, a.top, a.right - a.left, a.bottom - a.top);
    ctx.beginPath();
    xMinorValues.forEach((v) => {
      const px = Math.round(xs.getPixelForValue(v));
      const len = v % 2 === 0 ? 5 : 3;
      ctx.moveTo(px, a.bottom);
      ctx.lineTo(px, a.bottom + len);
      ctx.moveTo(px, a.top);
      ctx.lineTo(px, a.top + len);
    });
    yMinorValues.forEach((v) => {
      const py = Math.round(ys.getPixelForValue(v));
      const len = Number.isInteger(v) ? 5 : 3;
      ctx.moveTo(a.left, py);
      ctx.lineTo(a.left + len, py);
      ctx.moveTo(a.right, py);
      ctx.lineTo(a.right - len, py);
    });
    ctx.stroke();

    ctx.fillStyle = "#000";
    ctx.font = `bold 22px ${SERIF}`;
    ctx.textAlign = "center";
    ctx.textBaseline = "middle";
    ctx.save();
    ctx.translate(a.left - 33, (a.top + a.bottom) / 2 + 5);
    ctx.rotate(-Math.PI / 2);
    ctx.fillText(yAxisTitle, 0, 0);
    ctx.restore();

    const [pre, sub, post] = xAxisTitle;
    const mainFont = `bold 22px ${SERIF}`;
    const subFont = `bold 14px ${SERIF}`;
    ctx.font = mainFont;
    const wPre = ctx.measureText(pre).width;
    const wPost = ctx.measureText(post).width;
    ctx.font = subFont;
    const wSub = ctx.measureText(sub).width;
    const total = wPre + wSub + wPost;
    const x0 = (a.left + a.right) / 2 - total / 2;
    const base = a.bottom + 47;
    ctx.textAlign = "left";
    ctx.textBaseline = "alphabetic";
    ctx.font = mainFont;
    ctx.fillText(pre, x0, base);
    ctx.font = subFont;
    ctx.fillText(sub, x0 + wPre, base + 3);
    ctx.font = mainFont;
    ctx.fillText(post, x0 + wPre + wSub, base);

    ctx.font = "bold 19px 'Liberation Sans', Arial, sans-serif";
    ctx.fillText(opts.letter, a.left - 39, a.top - 15.5);
    ctx.restore();
  },
};

function toXY(arr: Pt[]) {
  return arr.map(([x, y]) => ({ x, y }));
}

function VolcanoPanel(props: { left: number; plotW: number; letter: string; up: Pt[]; down: Pt[]; other: Pt[] }) {
  const { left, plotW, letter, up, down, other } = props;
  const ref = useRef<HTMLCanvasElement>(null);
  const W = AXIS_W + plotW + RIGHT_PAD;
  useEffect(() => {
    const pointDs = (data: Pt[], color: string, order: number) => ({
      type: "scatter" as const,
      data: toXY(data),
      backgroundColor: color,
      borderColor: color,
      borderWidth: 0,
      pointRadius: PT_R,
      pointHoverRadius: PT_R,
      order,
    });
    const lineDs = (data: Pt[]) => ({
      type: "scatter" as const,
      data: toXY(data),
      showLine: true,
      borderColor: BLUE,
      borderWidth: 2,
      borderDash: [10, 6],
      pointRadius: 0,
      fill: false,
      order: 2,
    });
    const chart = new Chart(ref.current as HTMLCanvasElement, {
      type: "scatter",
      data: {
        datasets: [
          pointDs(up, RED, 1),
          pointDs(down, GREEN, 1),
          lineDs([[-fcCut, 0], [-fcCut, 5]]),
          lineDs([[fcCut, 0], [fcCut, 5]]),
          lineDs([[-5, pCut], [5, pCut]]),
          pointDs(other, GRAY, 3),
        ] as any,
      },
      options: {
        responsive: false,
        animation: false,
        devicePixelRatio: 1,
        events: [],
        layout: { padding: { top: TOP_PAD, right: RIGHT_PAD, left: 0, bottom: 0 } },
        plugins: {
          legend: { display: false },
          tooltip: { enabled: false },
          volcanoDecor: { letter },
        } as any,
        scales: {
          x: {
            type: "linear",
            min: -5,
            max: 5,
            afterBuildTicks: (s: any) => {
              s.ticks = xTickValues.map((v) => ({ value: v }));
            },
            afterFit: (s: any) => {
              s.height = X_AXIS_H;
            },
            ticks: {
              autoSkip: false,
              maxRotation: 0,
              padding: 9,
              color: "#000",
              font: { family: SERIF, size: 20, weight: "bold" },
              callback: (v: any) => {
                const i = xTickValues.indexOf(Number(v));
                return i >= 0 ? xTickLabels[i] : "";
              },
            },
            grid: { display: false, drawTicks: false },
            border: { display: false },
          },
          y: {
            type: "linear",
            min: 0,
            max: 5,
            afterBuildTicks: (s: any) => {
              s.ticks = yTickValues.map((v) => ({ value: v }));
            },
            afterFit: (s: any) => {
              s.width = AXIS_W;
            },
            ticks: {
              autoSkip: false,
              padding: 5,
              color: "#000",
              font: { family: SERIF, size: 20, weight: "bold" },
              callback: (v: any) => {
                const i = yTickValues.indexOf(Number(v));
                return i >= 0 ? yTickLabels[i] : "";
              },
            },
            grid: { display: false, drawTicks: false },
            border: { display: false },
          },
        },
      } as any,
      plugins: [volcanoDecor],
    });
    return () => chart.destroy();
  }, []);
  return (
    <canvas
      ref={ref}
      width={W}
      height={CANVAS_H}
      style={{ position: "absolute", left: left - AXIS_W, top: 15, width: W, height: CANVAS_H }}
    />
  );
}

const captionStyle: React.CSSProperties = {
  position: "absolute",
  left: 23,
  whiteSpace: "nowrap",
  transformOrigin: "0 0",
  fontFamily: "Roboto, 'Liberation Sans', sans-serif",
  fontSize: 15,
  fontWeight: 300,
  lineHeight: "20px",
  color: "#333",
};

function Caption() {
  const l1 = useRef<HTMLDivElement>(null);
  const l2 = useRef<HTMLDivElement>(null);
  const l3 = useRef<HTMLDivElement>(null);
  useLayoutEffect(() => {
    const refs = [l1, l2, l3];
    const e1 = l1.current;
    if (!e1) return;
    const w1 = e1.getBoundingClientRect().width;
    const k = w1 > 0 ? captionWidths[0] / w1 : 1;
    refs.forEach((r, i) => {
      const el = r.current;
      if (!el) return;
      el.style.letterSpacing = "0px";
      if (i > 0) {
        const w = el.getBoundingClientRect().width;
        const n = (el.textContent || "").length;
        const extra = captionWidths[i] / k - w;
        if (n > 0) el.style.letterSpacing = `${extra / n}px`;
      }
      el.style.transform = `scaleX(${k})`;
    });
  }, []);
  const b: React.CSSProperties = { fontWeight: 700 };
  return (
    <>
      <div ref={l1} style={{ ...captionStyle, top: 390 }}>
        <span style={b}>FIGURE 4</span> | Volcano plot of the DEPs identified in <i>S. aureus</i> in response to
        treatment with 0, 10, and 20% NaCl. Each point represents a protein, and the red and
      </div>
      <div ref={l2} style={{ ...captionStyle, top: 410 }}>
        green areas represents upregulated (FC ≥ 1.2 or FC ≤ 0.83 and <i>P</i> ≤ 0.05) and downregulated proteins,
        respectively. <span style={b}>(A)</span> 10% NaCl group and the control group; <span style={b}>(B)</span>
      </div>
      <div ref={l3} style={{ ...captionStyle, top: 429.5 }}>
        20% NaCl group and the control group; <span style={b}>(C)</span> 20% NaCl group and 10% NaCl group.
      </div>
    </>
  );
}

export default function App() {
  return (
    <div style={{ position: "fixed", left: 0, top: 0, width: 1357, height: 479, background: "#fff", overflow: "hidden" }}>
      <div
        style={{
          position: "absolute",
          left: 8,
          top: 9,
          width: 1347,
          height: 467,
          border: "1px solid #333",
          boxSizing: "border-box",
        }}
      />
      <VolcanoPanel left={131} plotW={344} letter={panelLetters[0]} up={aUp} down={aDown} other={[...aOther, ...aOtherCore]} />
      <VolcanoPanel left={527} plotW={346} letter={panelLetters[1]} up={bUp} down={bDown} other={[...bOther, ...bOtherCore]} />
      <VolcanoPanel left={924} plotW={345} letter={panelLetters[2]} up={cUp} down={cDown} other={[...cOther, ...cOtherCore]} />
      <Caption />
    </div>
  );
}
